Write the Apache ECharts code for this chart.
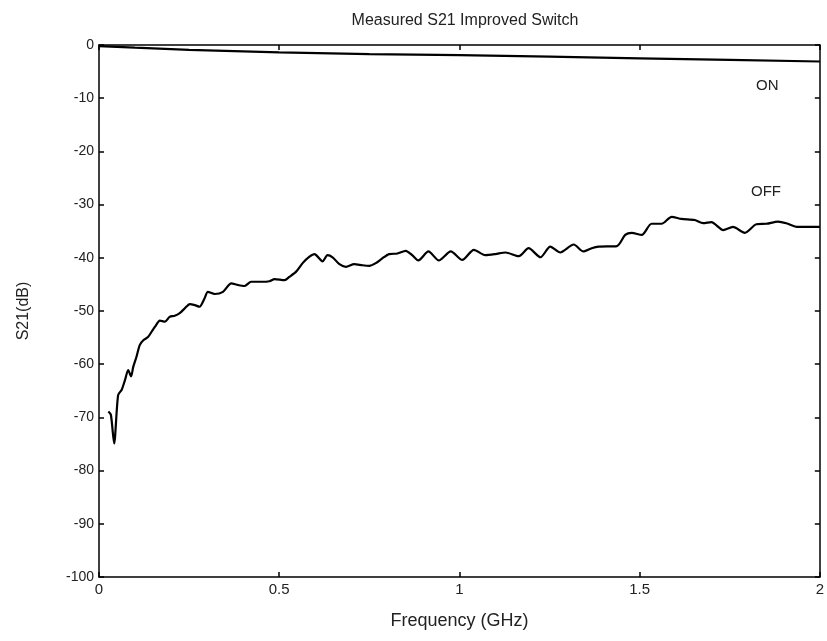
<!DOCTYPE html>
<html>
<head>
<meta charset="utf-8">
<script src="https://cdn.jsdelivr.net/npm/echarts@6/dist/echarts.min.js"></script>
<style>
  html, body { margin: 0; padding: 0; background: #fff; }
  #chart { width: 827px; height: 641px; }
</style>
</head>
<body>
<div id="chart"></div>
<script>
// ON trace (GHz, dB)
var onFreq = [0, 0.1, 0.25, 0.5, 0.75, 1.0, 1.25, 1.5, 1.75, 2.0];
var onDb = [-0.2, -0.5, -0.9, -1.4, -1.7, -1.9, -2.2, -2.5, -2.8, -3.1];

// OFF trace (GHz, dB)
var offFreq = [0.026, 0.033, 0.042, 0.053, 0.063, 0.072, 0.081, 0.089, 0.095, 0.104,
  0.113, 0.123, 0.136, 0.146, 0.155, 0.169, 0.183, 0.196, 0.210, 0.224,
  0.238, 0.252, 0.266, 0.279, 0.293, 0.302, 0.321, 0.344, 0.367, 0.385,
  0.404, 0.422, 0.450, 0.473, 0.487, 0.515, 0.528, 0.547, 0.565, 0.584,
  0.598, 0.611, 0.620, 0.634, 0.648, 0.667, 0.685, 0.708, 0.731, 0.750,
  0.768, 0.786, 0.805, 0.828, 0.851, 0.869, 0.886, 0.914, 0.943, 0.976,
  1.008, 1.040, 1.072, 1.100, 1.128, 1.165, 1.192, 1.225, 1.252, 1.280,
  1.317, 1.344, 1.367, 1.386, 1.437, 1.460, 1.478, 1.506, 1.533, 1.561,
  1.589, 1.616, 1.653, 1.676, 1.699, 1.732, 1.759, 1.792, 1.824, 1.852,
  1.884, 1.907, 1.939, 1.985, 2.0];
var offDb = [-68.9, -69.5, -74.9, -65.8, -64.8, -63.0, -61.1, -62.3, -60.5, -58.6,
  -56.4, -55.5, -54.9, -53.9, -53.0, -51.8, -52.0, -51.1, -50.9, -50.4,
  -49.5, -48.7, -48.9, -49.2, -47.6, -46.4, -46.8, -46.4, -44.8, -45.1,
  -45.3, -44.5, -44.5, -44.4, -44.0, -44.2, -43.6, -42.6, -41.0, -39.8,
  -39.3, -40.1, -40.7, -39.5, -39.9, -41.2, -41.7, -41.2, -41.4, -41.5,
  -41.0, -40.1, -39.3, -39.2, -38.7, -39.5, -40.5, -38.8, -40.5, -38.8,
  -40.4, -38.5, -39.5, -39.3, -39.0, -39.7, -38.2, -39.9, -37.9, -39.0,
  -37.5, -38.8, -38.2, -37.9, -37.8, -35.7, -35.3, -35.7, -33.6, -33.6,
  -32.3, -32.7, -32.9, -33.5, -33.3, -34.8, -34.2, -35.3, -33.7, -33.6,
  -33.2, -33.5, -34.2, -34.2, -34.2];

var xTicks = [0, 0.5, 1, 1.5, 2];
var yTicks = [0, -10, -20, -30, -40, -50, -60, -70, -80, -90, -100];

function pairs(xs, ys) {
  var out = [];
  for (var i = 0; i < xs.length; i++) out.push([xs[i], ys[i]]);
  return out;
}

var font = 'Liberation Sans, Arial, sans-serif';
var chart = echarts.init(document.getElementById('chart'));

var boxAxis = {
  axisLine: { show: true, onZero: false, lineStyle: { color: '#000', width: 1.5 } },
  axisTick: { show: true, inside: true, length: 5, lineStyle: { color: '#000', width: 1.5 } },
  splitLine: { show: false }
};

var option = {
  backgroundColor: '#fff',
  animation: false,
  title: {
    text: 'Measured S21 Improved Switch',
    left: 460, top: 8, textAlign: 'center',
    textStyle: { fontFamily: font, fontSize: 16, fontWeight: 'normal', color: '#222' }
  },
  grid: { left: 99, right: 5, top: 45, bottom: 64 },
  xAxis: [
    Object.assign({}, boxAxis, {
      type: 'value', min: 0, max: 2, interval: 0.5, position: 'bottom',
      name: 'Frequency (GHz)', nameLocation: 'middle', nameGap: 35,
      nameTextStyle: { fontFamily: font, fontSize: 18, color: '#222' },
      axisLabel: { fontFamily: font, fontSize: 15, color: '#222', margin: 5,
        formatter: function (v) { return xTicks.indexOf(v) >= 0 ? String(v) : ''; } }
    }),
    Object.assign({}, boxAxis, {
      type: 'value', min: 0, max: 2, interval: 0.5, position: 'top',
      axisLabel: { show: false }
    })
  ],
  yAxis: [
    Object.assign({}, boxAxis, {
      type: 'value', min: -100, max: 0, interval: 10, position: 'left',
      name: 'S21(dB)', nameLocation: 'middle', nameGap: 67, nameRotate: 90,
      nameTextStyle: { fontFamily: font, fontSize: 16, color: '#222' },
      axisLabel: { fontFamily: font, fontSize: 14, color: '#222', margin: 5,
        formatter: function (v) { return yTicks.indexOf(v) >= 0 ? String(v) : ''; } }
    }),
    Object.assign({}, boxAxis, {
      type: 'value', min: -100, max: 0, interval: 10, position: 'right',
      axisLabel: { show: false }
    })
  ],
  series: [
    {
      name: 'ON', type: 'line', showSymbol: false, symbol: 'none',
      data: pairs(onFreq, onDb),
      lineStyle: { color: '#000', width: 2.2 }
    },
    {
      name: 'OFF', type: 'line', showSymbol: false, symbol: 'none', smooth: 0.25,
      data: pairs(offFreq, offDb),
      lineStyle: { color: '#000', width: 2.2 }
    }
  ],
  graphic: [
    { type: 'text', left: 756, top: 78, style: { text: 'ON', font: '15px ' + font, fill: '#222' } },
    { type: 'text', left: 751, top: 184, style: { text: 'OFF', font: '15px ' + font, fill: '#222' } }
  ]
};

chart.setOption(option);
</script>
</body>
</html>
